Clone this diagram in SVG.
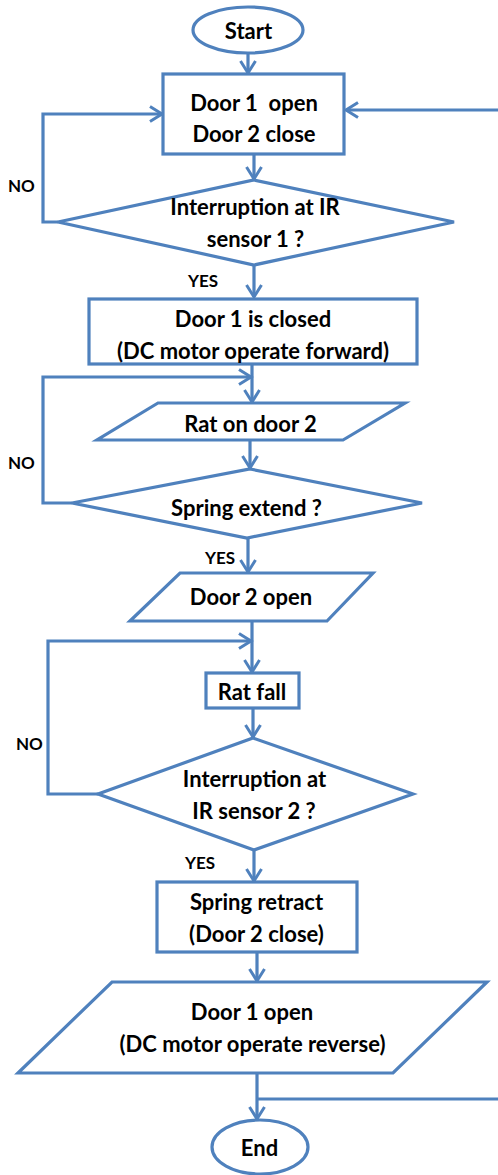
<svg xmlns="http://www.w3.org/2000/svg" width="498" height="1175" viewBox="0 0 498 1175">
<defs>
<marker id="arr" markerUnits="userSpaceOnUse" markerWidth="16" markerHeight="18" viewBox="0 0 16 18" refX="13" refY="9" orient="auto">
<path d="M1,1.5 L13,9 L1,16.5" fill="none" stroke="#4F81BD" stroke-width="3"/>
</marker>
</defs>
<style>
.s{fill:#fff;stroke:#4F81BD;stroke-width:3.2}
.c{fill:none;stroke:#4F81BD;stroke-width:3.2}
.a{marker-end:url(#arr)}
text{font-family:Lato,"Liberation Sans",sans-serif;font-weight:bold;font-size:22px;fill:#000;text-anchor:middle}
.l{font-size:17px;text-anchor:start}
</style>
<rect width="498" height="1175" fill="#fff"/>
<g id="connectors">
<path class="c a" d="M248,53 V73"/>
<path class="c a" d="M498,110 H346"/>
<path class="c a" d="M58,222 H43 V114 H162"/>
<path class="c a" d="M254,154 V179"/>
<path class="c a" d="M254,265 V297"/>
<path class="c a" d="M252,364 V402"/>
<path class="c a" d="M72,503 H43 V377 H251"/>
<path class="c a" d="M250,440 V468"/>
<path class="c a" d="M248,538 V572"/>
<path class="c a" d="M252,622 V672"/>
<path class="c a" d="M98,794 H48 V641 H251"/>
<path class="c a" d="M253,708 V737"/>
<path class="c a" d="M254,850 V881"/>
<path class="c a" d="M257,952 V981"/>
<path class="c a" d="M257,1073 V1119"/>
<path class="c" d="M257,1099 H498"/>
<text class="l" x="8" y="192">NO</text>
<text class="l" x="188" y="287">YES</text>
<text class="l" x="8" y="469">NO</text>
<text class="l" x="205" y="564">YES</text>
<text class="l" x="16" y="750">NO</text>
<text class="l" x="185" y="869">YES</text>
</g>
<g id="start">
<ellipse class="s" cx="248" cy="30" rx="55" ry="23"/>
<text x="248.5" y="39">Start</text>
</g>
<g id="door1open">
<rect class="s" x="163" y="74" width="181" height="80"/>
<text x="254" y="111" xml:space="preserve">Door 1  open</text>
<text x="254" y="142">Door 2 close</text>
</g>
<g id="ir1">
<polygon class="s" points="254,180 454,222 254,265 58,222"/>
<text x="255" y="215">Interruption at IR</text>
<text x="255.5" y="247">sensor 1 ?</text>
</g>
<g id="door1closed">
<rect class="s" x="89" y="299" width="328" height="65"/>
<text x="253" y="327">Door 1 is closed</text>
<text x="253" y="359">(DC motor operate forward)</text>
</g>
<g id="ratdoor2">
<polygon class="s" points="158,403 405,403 343,440 97,440"/>
<text x="250.5" y="432">Rat on door 2</text>
</g>
<g id="spring">
<polygon class="s" points="250,469 422,503 247,538 72,503"/>
<text x="246.5" y="516">Spring extend ?</text>
</g>
<g id="door2open">
<polygon class="s" points="180,573 373,573 327,621 130,621"/>
<text x="251" y="605">Door 2 open</text>
</g>
<g id="ratfall">
<rect class="s" x="206" y="673" width="93" height="35"/>
<text x="252" y="700">Rat fall</text>
</g>
<g id="ir2">
<polygon class="s" points="253,738 413,794 254,850 98,794"/>
<text x="254.5" y="787">Interruption at</text>
<text x="254" y="819">IR sensor 2 ?</text>
</g>
<g id="retract">
<rect class="s" x="157" y="882" width="200" height="70"/>
<text x="256.5" y="910">Spring retract</text>
<text x="256.5" y="942">(Door 2 close)</text>
</g>
<g id="door1reverse">
<polygon class="s" points="112,982 487,982 393,1073 18,1073"/>
<text x="252" y="1020">Door 1 open</text>
<text x="252.5" y="1052">(DC motor operate reverse)</text>
</g>
<g id="end">
<ellipse class="s" cx="260" cy="1147" rx="48" ry="27"/>
<text x="259.5" y="1156">End</text>
</g>
</svg>
